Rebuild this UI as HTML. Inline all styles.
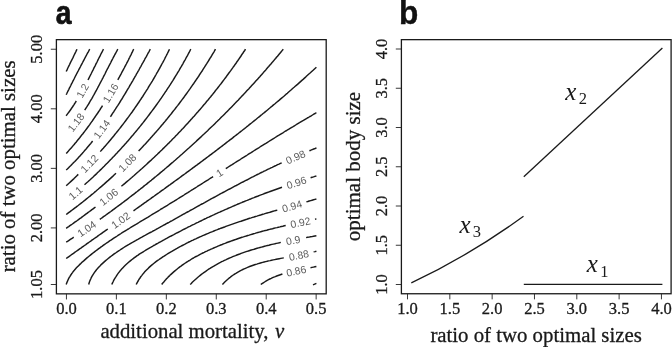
<!DOCTYPE html>
<html><head><meta charset="utf-8"><title>figure</title>
<style>html,body{margin:0;padding:0;background:#fff;}svg{display:block;will-change:transform;}text{font-family:"Liberation Serif",serif;fill:#1a1a1a;}.b{stroke:#1a1a1a;stroke-width:0.3px;}.s{font-family:"Liberation Sans",sans-serif;}</style></head><body>
<svg width="672" height="347" viewBox="0 0 672 347">
<rect x="0" y="0" width="672" height="347" fill="#ffffff"/>
<text class="s" transform="translate(55.8,23.5) scale(0.85,1)" font-size="33.2" font-weight="bold" style="fill:#111" stroke="#111" stroke-width="0.7">a</text>
<text class="s" transform="translate(399.1,23.5) scale(0.93,1)" font-size="34" font-weight="bold" style="fill:#111" stroke="#111" stroke-width="0.4">b</text>
<g fill="none" stroke="#1a1a1a" stroke-width="1.30">
<rect x="56.40" y="39.65" width="269.80" height="254.20"/>
<rect x="401.40" y="39.65" width="269.70" height="254.10"/>
</g>
<g fill="none" stroke="#222" stroke-width="0.9">
<line x1="66.45" y1="293.85" x2="66.45" y2="299.45"/>
<line x1="116.39" y1="293.85" x2="116.39" y2="299.45"/>
<line x1="166.33" y1="293.85" x2="166.33" y2="299.45"/>
<line x1="216.27" y1="293.85" x2="216.27" y2="299.45"/>
<line x1="266.21" y1="293.85" x2="266.21" y2="299.45"/>
<line x1="316.15" y1="293.85" x2="316.15" y2="299.45"/>
<line x1="56.40" y1="284.50" x2="50.80" y2="284.50"/>
<line x1="56.40" y1="227.92" x2="50.80" y2="227.92"/>
<line x1="56.40" y1="168.36" x2="50.80" y2="168.36"/>
<line x1="56.40" y1="108.80" x2="50.80" y2="108.80"/>
<line x1="56.40" y1="49.24" x2="50.80" y2="49.24"/>
<line x1="407.50" y1="293.75" x2="407.50" y2="299.35"/>
<line x1="401.40" y1="284.50" x2="395.80" y2="284.50"/>
<line x1="449.82" y1="293.75" x2="449.82" y2="299.35"/>
<line x1="401.40" y1="245.25" x2="395.80" y2="245.25"/>
<line x1="492.15" y1="293.75" x2="492.15" y2="299.35"/>
<line x1="401.40" y1="206.00" x2="395.80" y2="206.00"/>
<line x1="534.48" y1="293.75" x2="534.48" y2="299.35"/>
<line x1="401.40" y1="166.75" x2="395.80" y2="166.75"/>
<line x1="576.80" y1="293.75" x2="576.80" y2="299.35"/>
<line x1="401.40" y1="127.50" x2="395.80" y2="127.50"/>
<line x1="619.12" y1="293.75" x2="619.12" y2="299.35"/>
<line x1="401.40" y1="88.25" x2="395.80" y2="88.25"/>
<line x1="661.45" y1="293.75" x2="661.45" y2="299.35"/>
<line x1="401.40" y1="49.00" x2="395.80" y2="49.00"/>
</g>
<text class="b" x="66.45" y="314.2" font-size="16.5" text-anchor="middle">0.0</text>
<text class="b" x="116.39" y="314.2" font-size="16.5" text-anchor="middle">0.1</text>
<text class="b" x="166.33" y="314.2" font-size="16.5" text-anchor="middle">0.2</text>
<text class="b" x="216.27" y="314.2" font-size="16.5" text-anchor="middle">0.3</text>
<text class="b" x="266.21" y="314.2" font-size="16.5" text-anchor="middle">0.4</text>
<text class="b" x="316.15" y="314.2" font-size="16.5" text-anchor="middle">0.5</text>
<text class="b" transform="translate(42.3,284.50) rotate(-90)" font-size="16.5" text-anchor="middle">1.05</text>
<text class="b" transform="translate(42.3,227.92) rotate(-90)" font-size="16.5" text-anchor="middle">2.00</text>
<text class="b" transform="translate(42.3,168.36) rotate(-90)" font-size="16.5" text-anchor="middle">3.00</text>
<text class="b" transform="translate(42.3,108.80) rotate(-90)" font-size="16.5" text-anchor="middle">4.00</text>
<text class="b" transform="translate(42.3,49.24) rotate(-90)" font-size="16.5" text-anchor="middle">5.00</text>
<text class="b" x="407.50" y="314.2" font-size="16.5" text-anchor="middle">1.0</text>
<text class="b" transform="translate(387.3,284.50) rotate(-90)" font-size="16.5" text-anchor="middle">1.0</text>
<text class="b" x="449.82" y="314.2" font-size="16.5" text-anchor="middle">1.5</text>
<text class="b" transform="translate(387.3,245.25) rotate(-90)" font-size="16.5" text-anchor="middle">1.5</text>
<text class="b" x="492.15" y="314.2" font-size="16.5" text-anchor="middle">2.0</text>
<text class="b" transform="translate(387.3,206.00) rotate(-90)" font-size="16.5" text-anchor="middle">2.0</text>
<text class="b" x="534.48" y="314.2" font-size="16.5" text-anchor="middle">2.5</text>
<text class="b" transform="translate(387.3,166.75) rotate(-90)" font-size="16.5" text-anchor="middle">2.5</text>
<text class="b" x="576.80" y="314.2" font-size="16.5" text-anchor="middle">3.0</text>
<text class="b" transform="translate(387.3,127.50) rotate(-90)" font-size="16.5" text-anchor="middle">3.0</text>
<text class="b" x="619.12" y="314.2" font-size="16.5" text-anchor="middle">3.5</text>
<text class="b" transform="translate(387.3,88.25) rotate(-90)" font-size="16.5" text-anchor="middle">3.5</text>
<text class="b" x="661.45" y="314.2" font-size="16.5" text-anchor="middle">4.0</text>
<text class="b" transform="translate(387.3,49.00) rotate(-90)" font-size="16.5" text-anchor="middle">4.0</text>
<text class="b" x="100.4" y="337.6" font-size="20.75">additional mortality,</text>
<text class="b" x="275.0" y="337.6" font-size="20.75" font-style="italic">v</text>
<text class="b" transform="translate(15,166.4) rotate(-90)" font-size="20.85" text-anchor="middle">ratio of two optimal sizes</text>
<text class="b" x="536.1" y="342.0" font-size="20.8" text-anchor="middle">ratio of two optimal sizes</text>
<text class="b" transform="translate(359.5,166.5) rotate(-90)" font-size="21" text-anchor="middle">optimal body size</text>
<g fill="none" stroke="#1a1a1a" stroke-width="1.3" stroke-linecap="butt">
<path d="M523.8,176.7 L662.4,48.0"/>
<path d="M523.8,284.4 L662.4,284.4"/>
<path d="M411.3,282.8 Q467.4,256.8 523.5,216.3"/>
</g>
<text x="565.30" y="99.70" font-size="25" font-style="italic">x</text>
<text x="578.70" y="104.00" font-size="16.5">2</text>
<text x="459.40" y="232.90" font-size="25" font-style="italic">x</text>
<text x="472.80" y="237.20" font-size="16.5">3</text>
<text x="586.80" y="272.30" font-size="25" font-style="italic">x</text>
<text x="600.20" y="276.60" font-size="16.5">1</text>
<g fill="none" stroke="#1a1a1a" stroke-width="1.45" stroke-linecap="butt" stroke-linejoin="round">
<path d="M66.2,71.5 L66.9,70.1 L67.5,68.7 L68.2,67.3 L68.9,65.9 L69.6,64.5 L70.2,63.1 L70.9,61.7 L71.6,60.4 L72.3,59.0 L73.0,57.6 L73.6,56.2 L74.3,54.8 L75.0,53.4 L75.7,52.0 L76.3,50.6 L77.0,49.2"/>
<path d="M66.2,94.7 L66.9,93.3 L67.5,92.0 L68.2,90.6 L68.9,89.3 L69.5,87.9 L70.2,86.6 L70.9,85.2 L71.5,83.9 L72.2,82.6 L72.9,81.2 L73.6,79.9 L74.3,78.5 L74.9,77.2 L75.6,75.8 L76.3,74.5 L77.0,73.2 L77.7,71.8 L78.4,70.5 L79.1,69.1 L79.8,67.8 L80.5,66.5 L81.2,65.1 L81.9,63.8 L82.6,62.5 L83.3,61.1 L84.0,59.8 L84.7,58.5 L85.4,57.2 L86.1,55.8 L86.8,54.5 L87.5,53.2 L88.3,51.8 L89.0,50.5 L89.7,49.2"/>
<path d="M66.1,115.8 L67.0,114.6 L67.9,113.4 L68.8,112.2 L69.7,111.0 L70.6,109.8 L71.4,108.5 L72.3,107.3 L73.1,106.0 L73.9,104.8 L74.7,103.5 L75.5,102.3 L76.3,101.0"/>
<path d="M88.0,80.0 L88.7,78.7 L89.3,77.4 L90.0,76.0 L90.7,74.7 L91.4,73.3 L92.0,72.0 L92.7,70.6 L93.4,69.3 L94.0,67.9 L94.7,66.6 L95.4,65.3 L96.0,63.9 L96.7,62.6 L97.4,61.2 L98.0,59.9 L98.7,58.5 L99.4,57.2 L100.1,55.9 L100.7,54.5 L101.4,53.2 L102.1,51.9 L102.8,50.5 L103.5,49.2"/>
<path d="M84.7,110.2 L85.5,108.9 L86.3,107.6 L87.1,106.4 L87.9,105.1 L88.7,103.8 L89.5,102.5 L90.2,101.2 L91.0,99.9 L91.8,98.6 L92.5,97.3 L93.2,96.0 L94.0,94.6 L94.7,93.3 L95.4,92.0 L96.2,90.7 L96.9,89.3 L97.6,88.0 L98.3,86.7 L99.0,85.3 L99.7,84.0 L100.4,82.7 L101.1,81.3 L101.8,80.0 L102.5,78.6 L103.2,77.3 L103.9,75.9 L104.6,74.6 L105.3,73.2 L105.9,71.9 L106.6,70.5 L107.3,69.2 L108.0,67.9 L108.7,66.5 L109.4,65.2 L110.1,63.8 L110.8,62.5 L111.4,61.1 L112.1,59.8 L112.8,58.5 L113.5,57.1 L114.2,55.8 L114.9,54.5 L115.7,53.2 L116.4,51.8 L117.1,50.5 L117.8,49.2"/>
<path d="M66.2,153.5 L67.2,152.4 L68.2,151.3 L69.2,150.1 L70.2,149.0 L71.2,147.9 L72.2,146.8 L73.2,145.6 L74.2,144.5 L75.1,143.3 L76.1,142.2 L77.0,141.0 L78.0,139.8 L78.9,138.7 L79.9,137.5 L80.8,136.3 L81.7,135.1 L82.7,134.0 L83.6,132.8 L84.5,131.6 L85.4,130.4 L86.3,129.2 L87.2,128.0 L88.1,126.8 L89.0,125.6 L89.9,124.4 L90.7,123.1 L91.6,121.9 L92.5,120.7 L93.3,119.5 L94.2,118.2 L95.0,117.0 L95.9,115.7 L96.7,114.5 L97.6,113.3 L98.4,112.0 L99.2,110.8 L100.1,109.5 L100.9,108.2 L101.7,107.0 L102.5,105.7"/>
<path d="M117.8,79.9 L118.5,78.6 L119.3,77.2 L120.0,75.9 L120.7,74.6 L121.4,73.3 L122.1,71.9 L122.8,70.6 L123.5,69.3 L124.2,68.0 L124.9,66.6 L125.6,65.3 L126.3,64.0 L127.0,62.6 L127.7,61.3 L128.4,60.0 L129.0,58.6 L129.7,57.3 L130.4,55.9 L131.1,54.6 L131.7,53.2 L132.4,51.9 L133.0,50.5 L133.7,49.2"/>
<path d="M66.2,170.0 L67.3,169.0 L68.4,167.9 L69.5,166.8 L70.6,165.8 L71.6,164.7 L72.7,163.6 L73.7,162.5 L74.8,161.5 L75.8,160.4 L76.9,159.3 L77.9,158.2 L78.9,157.1 L80.0,155.9 L81.0,154.8 L82.0,153.7 L83.0,152.6 L84.0,151.4 L84.9,150.3 L85.9,149.2 L86.9,148.0 L87.9,146.8 L88.8,145.7 L89.8,144.5 L90.8,143.4 L91.7,142.2 L92.6,141.0"/>
<path d="M110.4,116.7 L111.3,115.5 L112.1,114.2 L112.9,112.9 L113.8,111.7 L114.6,110.4 L115.4,109.2 L116.2,107.9 L117.0,106.6 L117.9,105.4 L118.7,104.1 L119.5,102.8 L120.3,101.5 L121.1,100.2 L121.9,99.0 L122.7,97.7 L123.4,96.4 L124.2,95.1 L125.0,93.8 L125.8,92.5 L126.6,91.2 L127.3,89.9 L128.1,88.6 L128.9,87.3 L129.6,86.0 L130.4,84.7 L131.2,83.4 L131.9,82.1 L132.7,80.8 L133.4,79.5 L134.2,78.2 L134.9,76.9 L135.7,75.6 L136.4,74.2 L137.2,72.9 L137.9,71.6 L138.7,70.3 L139.4,69.0 L140.1,67.7 L140.9,66.3 L141.6,65.0 L142.3,63.7 L143.1,62.4 L143.8,61.1 L144.5,59.8 L145.2,58.4 L146.0,57.1 L146.7,55.8 L147.4,54.5 L148.1,53.2 L148.9,51.8 L149.6,50.5 L150.3,49.2"/>
<path d="M66.2,185.7 L67.3,184.7 L68.4,183.7 L69.5,182.7 L70.7,181.6 L71.8,180.6 L72.9,179.6 L74.0,178.6 L75.1,177.5 L76.1,176.5 L77.2,175.4 L78.3,174.4"/>
<path d="M100.3,151.6 L101.3,150.4 L102.3,149.3 L103.3,148.2 L104.3,147.0 L105.3,145.9 L106.3,144.8 L107.3,143.6 L108.3,142.5 L109.3,141.3 L110.2,140.2 L111.2,139.0 L112.2,137.8 L113.1,136.7 L114.1,135.5 L115.0,134.3 L116.0,133.1 L116.9,132.0 L117.9,130.8 L118.8,129.6 L119.8,128.4 L120.7,127.2 L121.6,126.0 L122.6,124.8 L123.5,123.6 L124.4,122.4 L125.3,121.2 L126.2,120.0 L127.1,118.8 L128.0,117.6 L128.9,116.4 L129.8,115.1 L130.7,113.9 L131.6,112.7 L132.5,111.5 L133.3,110.2 L134.2,109.0 L135.1,107.7 L135.9,106.5 L136.8,105.3 L137.6,104.0 L138.5,102.8 L139.3,101.5 L140.2,100.2 L141.0,99.0 L141.8,97.7 L142.7,96.5 L143.5,95.2 L144.3,93.9 L145.1,92.6 L145.9,91.4 L146.7,90.1 L147.6,88.8 L148.3,87.5 L149.1,86.2 L149.9,84.9 L150.7,83.7 L151.5,82.4 L152.3,81.1 L153.0,79.8 L153.8,78.5 L154.6,77.2 L155.3,75.9 L156.1,74.5 L156.8,73.2 L157.6,71.9 L158.3,70.6 L159.0,69.3 L159.8,68.0 L160.5,66.6 L161.2,65.3 L161.9,64.0 L162.7,62.6 L163.4,61.3 L164.1,60.0 L164.8,58.6 L165.4,57.3 L166.1,56.0 L166.8,54.6 L167.5,53.3 L168.2,51.9 L168.8,50.6 L169.5,49.2"/>
<path d="M84.5,184.8 L85.6,183.8 L86.7,182.8 L87.9,181.8 L89.0,180.8 L90.1,179.8 L91.2,178.7 L92.3,177.7 L93.4,176.7 L94.5,175.6 L95.6,174.6 L96.7,173.6 L97.7,172.5 L98.8,171.5 L99.9,170.4 L101.0,169.4 L102.1,168.3 L103.1,167.2 L104.2,166.2 L105.3,165.1 L106.3,164.1 L107.4,163.0 L108.4,161.9 L109.5,160.8 L110.5,159.7 L111.6,158.7 L112.6,157.6 L113.7,156.5 L114.7,155.4 L115.7,154.3 L116.8,153.2 L117.8,152.1 L118.8,151.0 L119.8,149.9 L120.9,148.8 L121.9,147.6 L122.9,146.5 L123.9,145.4 L124.9,144.3 L125.9,143.2 L126.9,142.0 L127.9,140.9 L128.9,139.8 L129.9,138.6 L130.8,137.5 L131.8,136.3 L132.8,135.2 L133.8,134.0 L134.7,132.9 L135.7,131.7 L136.7,130.6 L137.6,129.4 L138.6,128.2 L139.5,127.1 L140.5,125.9 L141.4,124.7 L142.4,123.5 L143.3,122.4 L144.2,121.2 L145.1,120.0 L146.1,118.8 L147.0,117.6 L147.9,116.4 L148.8,115.2 L149.7,114.0 L150.6,112.8 L151.5,111.6 L152.4,110.4 L153.3,109.2 L154.2,108.0 L155.1,106.8 L156.0,105.5 L156.9,104.3 L157.7,103.1 L158.6,101.9 L159.5,100.6 L160.3,99.4 L161.2,98.2 L162.1,96.9 L162.9,95.7 L163.8,94.4 L164.6,93.2 L165.4,91.9 L166.3,90.7 L167.1,89.4 L167.9,88.2 L168.8,86.9 L169.6,85.6 L170.4,84.4 L171.2,83.1 L172.0,81.8 L172.8,80.6 L173.6,79.3 L174.4,78.0 L175.2,76.7 L176.0,75.4 L176.8,74.2 L177.5,72.9 L178.3,71.6 L179.1,70.3 L179.8,69.0 L180.6,67.7 L181.4,66.4 L182.1,65.1 L182.9,63.8 L183.6,62.4 L184.3,61.1 L185.1,59.8 L185.8,58.5 L186.5,57.2 L187.3,55.9 L188.0,54.5 L188.7,53.2 L189.4,51.9 L190.1,50.5 L190.8,49.2"/>
<path d="M66.2,214.5 L67.4,213.6 L68.6,212.7 L69.8,211.8 L71.0,210.9 L72.2,210.0 L73.4,209.1 L74.6,208.2 L75.8,207.3 L77.0,206.4 L78.2,205.5 L79.4,204.5 L80.6,203.6 L81.8,202.7 L83.0,201.7 L84.1,200.8 L85.3,199.9 L86.5,198.9 L87.6,198.0 L88.8,197.0 L90.0,196.1 L91.1,195.1 L92.3,194.2 L93.5,193.2 L94.6,192.2 L95.8,191.3 L96.9,190.3 L98.1,189.3 L99.2,188.3 L100.3,187.4 L101.5,186.4 L102.6,185.4 L103.8,184.4 L104.9,183.4 L106.0,182.4 L107.1,181.4 L108.3,180.4 L109.4,179.4 L110.5,178.4 L111.6,177.4 L112.7,176.4 L113.8,175.3 L114.9,174.3 L116.0,173.3"/>
<path d="M138.6,151.1 L139.6,150.0 L140.6,148.9 L141.7,147.8 L142.7,146.7 L143.7,145.6 L144.8,144.5 L145.8,143.4 L146.8,142.3 L147.8,141.2 L148.8,140.1 L149.8,139.0 L150.8,137.8 L151.8,136.7 L152.8,135.6 L153.8,134.5 L154.8,133.3 L155.8,132.2 L156.8,131.1 L157.8,129.9 L158.8,128.8 L159.8,127.6 L160.7,126.5 L161.7,125.3 L162.7,124.2 L163.6,123.0 L164.6,121.9 L165.6,120.7 L166.5,119.5 L167.5,118.4 L168.4,117.2 L169.4,116.0 L170.3,114.9 L171.3,113.7 L172.2,112.5 L173.1,111.3 L174.1,110.1 L175.0,109.0 L175.9,107.8 L176.8,106.6 L177.8,105.4 L178.7,104.2 L179.6,103.0 L180.5,101.8 L181.4,100.6 L182.3,99.4 L183.2,98.2 L184.1,97.0 L185.0,95.7 L185.9,94.5 L186.8,93.3 L187.6,92.1 L188.5,90.9 L189.4,89.6 L190.3,88.4 L191.1,87.2 L192.0,85.9 L192.8,84.7 L193.7,83.5 L194.6,82.2 L195.4,81.0 L196.3,79.7 L197.1,78.5 L197.9,77.3 L198.8,76.0 L199.6,74.7 L200.4,73.5 L201.3,72.2 L202.1,71.0 L202.9,69.7 L203.7,68.4 L204.5,67.2 L205.3,65.9 L206.1,64.6 L206.9,63.4 L207.7,62.1 L208.5,60.8 L209.3,59.5 L210.1,58.2 L210.9,57.0 L211.7,55.7 L212.4,54.4 L213.2,53.1 L214.0,51.8 L214.7,50.5 L215.5,49.2"/>
<path d="M66.2,228.3 L67.4,227.4 L68.7,226.6 L69.9,225.7 L71.1,224.8 L72.4,224.0 L73.6,223.1 L74.8,222.2 L76.1,221.3 L77.3,220.5 L78.5,219.6 L79.7,218.7 L81.0,217.8 L82.2,216.9 L83.4,216.0 L84.6,215.1 L85.8,214.2 L87.0,213.3 L88.2,212.4 L89.5,211.5 L90.7,210.6 L91.9,209.7 L93.1,208.8 L94.3,207.9 L95.5,207.0"/>
<path d="M121.4,186.3 L122.6,185.3 L123.7,184.4 L124.9,183.4 L126.0,182.4 L127.2,181.4 L128.3,180.5 L129.5,179.5 L130.6,178.5 L131.8,177.5 L132.9,176.5 L134.1,175.5 L135.2,174.5 L136.3,173.5 L137.4,172.5 L138.6,171.5 L139.7,170.5 L140.8,169.5 L142.0,168.5 L143.1,167.5 L144.2,166.5 L145.3,165.5 L146.4,164.5 L147.5,163.4 L148.6,162.4 L149.7,161.4 L150.9,160.4 L152.0,159.3 L153.1,158.3 L154.2,157.3 L155.2,156.2 L156.3,155.2 L157.4,154.2 L158.5,153.1 L159.6,152.1 L160.7,151.0 L161.8,150.0 L162.8,148.9 L163.9,147.9 L165.0,146.8 L166.1,145.7 L167.1,144.7 L168.2,143.6 L169.3,142.6 L170.3,141.5 L171.4,140.4 L172.4,139.3 L173.5,138.3 L174.6,137.2 L175.6,136.1 L176.7,135.0 L177.7,133.9 L178.7,132.8 L179.8,131.7 L180.8,130.7 L181.8,129.6 L182.9,128.5 L183.9,127.4 L184.9,126.3 L186.0,125.1 L187.0,124.0 L188.0,122.9 L189.0,121.8 L190.0,120.7 L191.0,119.6 L192.0,118.5 L193.0,117.3 L194.1,116.2 L195.1,115.1 L196.0,113.9 L197.0,112.8 L198.0,111.7 L199.0,110.5 L200.0,109.4 L201.0,108.3 L202.0,107.1 L202.9,106.0 L203.9,104.8 L204.9,103.7 L205.9,102.5 L206.8,101.3 L207.8,100.2 L208.8,99.0 L209.7,97.9 L210.7,96.7 L211.6,95.5 L212.6,94.4 L213.5,93.2 L214.5,92.0 L215.4,90.8 L216.3,89.6 L217.3,88.5 L218.2,87.3 L219.1,86.1 L220.0,84.9 L221.0,83.7 L221.9,82.5 L222.8,81.3 L223.7,80.1 L224.6,78.9 L225.5,77.7 L226.4,76.5 L227.3,75.2 L228.2,74.0 L229.1,72.8 L230.0,71.6 L230.9,70.4 L231.8,69.1 L232.7,67.9 L233.5,66.7 L234.4,65.5 L235.3,64.2 L236.2,63.0 L237.0,61.7 L237.9,60.5 L238.7,59.3 L239.6,58.0 L240.5,56.8 L241.3,55.5 L242.1,54.2 L243.0,53.0 L243.8,51.7 L244.7,50.5 L245.5,49.2"/>
<path d="M66.2,242.2 L67.5,241.4 L68.7,240.6 L70.0,239.7 L71.2,238.9 L72.5,238.1 L73.7,237.2"/>
<path d="M99.8,219.4 L101.0,218.5 L102.3,217.6 L103.5,216.7 L104.7,215.9 L105.9,215.0 L107.1,214.1 L108.4,213.2 L109.6,212.3 L110.8,211.5 L112.0,210.6 L113.2,209.7 L114.4,208.8 L115.6,207.9 L116.8,207.0 L118.0,206.1 L119.3,205.2 L120.5,204.3 L121.7,203.4 L122.9,202.5 L124.1,201.6 L125.3,200.7 L126.5,199.8 L127.7,198.9 L128.8,198.0 L130.0,197.0 L131.2,196.1 L132.4,195.2 L133.6,194.3 L134.8,193.4 L136.0,192.4 L137.2,191.5 L138.3,190.6 L139.5,189.7 L140.7,188.7 L141.9,187.8 L143.1,186.9 L144.2,185.9 L145.4,185.0 L146.6,184.1 L147.7,183.1 L148.9,182.2 L150.1,181.2 L151.3,180.3 L152.4,179.3 L153.6,178.4 L154.7,177.4 L155.9,176.5 L157.1,175.5 L158.2,174.6 L159.4,173.6 L160.5,172.6 L161.7,171.7 L162.8,170.7 L164.0,169.8 L165.1,168.8 L166.3,167.8 L167.4,166.8 L168.6,165.9 L169.7,164.9 L170.8,163.9 L172.0,162.9 L173.1,162.0 L174.2,161.0 L175.4,160.0 L176.5,159.0 L177.6,158.0 L178.8,157.0 L179.9,156.0 L181.0,155.0 L182.2,154.0 L183.3,153.0 L184.4,152.0 L185.5,151.0 L186.6,150.0 L187.7,149.0 L188.9,148.0 L190.0,147.0 L191.1,146.0 L192.2,145.0 L193.3,144.0 L194.4,143.0 L195.5,142.0 L196.6,140.9 L197.7,139.9 L198.8,138.9 L199.9,137.9 L201.0,136.9 L202.1,135.8 L203.2,134.8 L204.3,133.8 L205.4,132.7 L206.5,131.7 L207.6,130.7 L208.7,129.6 L209.7,128.6 L210.8,127.5 L211.9,126.5 L213.0,125.5 L214.1,124.4 L215.1,123.4 L216.2,122.3 L217.3,121.3 L218.3,120.2 L219.4,119.2 L220.5,118.1 L221.5,117.0 L222.6,116.0 L223.7,114.9 L224.7,113.9 L225.8,112.8 L226.9,111.7 L227.9,110.7 L229.0,109.6 L230.0,108.5 L231.1,107.4 L232.1,106.4 L233.2,105.3 L234.2,104.2 L235.3,103.1 L236.3,102.0 L237.3,101.0 L238.4,99.9 L239.4,98.8 L240.4,97.7 L241.5,96.6 L242.5,95.5 L243.5,94.4 L244.6,93.3 L245.6,92.2 L246.6,91.1 L247.6,90.0 L248.7,88.9 L249.7,87.8 L250.7,86.7 L251.7,85.6 L252.7,84.5 L253.7,83.4 L254.8,82.2 L255.8,81.1 L256.8,80.0 L257.8,78.9 L258.8,77.8 L259.8,76.7 L260.8,75.5 L261.8,74.4 L262.8,73.3 L263.8,72.1 L264.8,71.0 L265.8,69.9 L266.7,68.7 L267.7,67.6 L268.7,66.5 L269.7,65.3 L270.7,64.2 L271.7,63.0 L272.6,61.9 L273.6,60.8 L274.6,59.6 L275.6,58.5 L276.5,57.3 L277.5,56.2 L278.5,55.0 L279.5,53.8 L280.4,52.7 L281.4,51.5 L282.3,50.4 L283.3,49.2"/>
<path d="M66.2,258.5 L67.4,257.6 L68.6,256.8 L69.9,255.9 L71.1,255.0 L72.3,254.1 L73.5,253.3 L74.7,252.4 L76.0,251.5 L77.2,250.7 L78.4,249.8 L79.6,248.9 L80.9,248.1 L82.1,247.2 L83.3,246.3 L84.5,245.5 L85.8,244.6 L87.0,243.7 L88.2,242.8 L89.4,242.0 L90.7,241.1 L91.9,240.2 L93.1,239.4 L94.3,238.5 L95.6,237.6 L96.8,236.8 L98.0,235.9 L99.2,235.0 L100.5,234.2 L101.7,233.3 L102.9,232.4 L104.1,231.6 L105.4,230.7 L106.6,229.8 L107.8,229.0"/>
<path d="M133.5,210.8 L134.8,209.9 L136.0,209.0 L137.2,208.2 L138.4,207.3 L139.7,206.4 L140.9,205.6 L142.1,204.7 L143.3,203.8 L144.5,202.9 L145.8,202.1 L147.0,201.2 L148.2,200.3 L149.4,199.5 L150.7,198.6 L151.9,197.7 L153.1,196.8 L154.3,196.0 L155.5,195.1 L156.8,194.2 L158.0,193.3 L159.2,192.5 L160.4,191.6 L161.6,190.7 L162.9,189.8 L164.1,189.0 L165.3,188.1 L166.5,187.2 L167.7,186.3 L168.9,185.4 L170.2,184.6 L171.4,183.7 L172.6,182.8 L173.8,181.9 L175.0,181.0 L176.2,180.2 L177.4,179.3 L178.7,178.4 L179.9,177.5 L181.1,176.6 L182.3,175.7 L183.5,174.8 L184.7,174.0 L185.9,173.1 L187.1,172.2 L188.3,171.3 L189.6,170.4 L190.8,169.5 L192.0,168.6 L193.2,167.7 L194.4,166.8 L195.6,165.9 L196.8,165.1 L198.0,164.2 L199.2,163.3 L200.4,162.4 L201.6,161.5 L202.8,160.6 L204.0,159.7 L205.2,158.8 L206.4,157.9 L207.6,157.0 L208.8,156.1 L210.0,155.2 L211.2,154.3 L212.4,153.4 L213.6,152.5 L214.8,151.6 L216.0,150.7 L217.2,149.7 L218.4,148.8 L219.6,147.9 L220.8,147.0 L222.0,146.1 L223.2,145.2 L224.3,144.3 L225.5,143.4 L226.7,142.4 L227.9,141.5 L229.1,140.6 L230.3,139.7 L231.5,138.8 L232.7,137.9 L233.8,136.9 L235.0,136.0 L236.2,135.1 L237.4,134.2 L238.6,133.2 L239.7,132.3 L240.9,131.4 L242.1,130.5 L243.3,129.5 L244.5,128.6 L245.6,127.7 L246.8,126.7 L248.0,125.8 L249.1,124.9 L250.3,123.9 L251.5,123.0 L252.7,122.0 L253.8,121.1 L255.0,120.2 L256.2,119.2 L257.3,118.3 L258.5,117.3 L259.7,116.4 L260.8,115.4 L262.0,114.5 L263.1,113.5 L264.3,112.6 L265.5,111.6 L266.6,110.7 L267.8,109.7 L268.9,108.8 L270.1,107.8 L271.2,106.8 L272.4,105.9 L273.5,104.9 L274.7,104.0 L275.8,103.0 L277.0,102.0 L278.1,101.1 L279.3,100.1 L280.4,99.1 L281.6,98.1 L282.7,97.2 L283.9,96.2 L285.0,95.2 L286.1,94.2 L287.3,93.3 L288.4,92.3 L289.5,91.3 L290.7,90.3 L291.8,89.3 L292.9,88.3 L294.1,87.3 L295.2,86.3 L296.3,85.4 L297.5,84.4 L298.6,83.4 L299.7,82.4 L300.8,81.4 L301.9,80.4 L303.1,79.4 L304.2,78.4 L305.3,77.4 L306.4,76.3 L307.5,75.3 L308.6,74.3 L309.8,73.3 L310.9,72.3 L312.0,71.3 L313.1,70.3 L314.2,69.2 L315.3,68.2 L316.4,67.2"/>
<path d="M66.2,284.5 L66.7,283.0 L67.3,281.6 L67.9,280.2 L68.5,278.9 L69.2,277.5 L70.0,276.3 L70.8,275.0 L71.6,273.8 L72.5,272.6 L73.3,271.4 L74.3,270.3 L75.2,269.2 L76.2,268.1 L77.2,267.0 L78.3,265.9 L79.3,264.9 L80.4,263.9 L81.5,262.8 L82.5,261.8 L83.7,260.9 L84.8,259.9 L85.9,258.9 L87.0,257.9 L88.1,257.0 L89.3,256.0 L90.4,255.1 L91.6,254.1 L92.8,253.2 L93.9,252.3 L95.1,251.4 L96.3,250.5 L97.5,249.6 L98.7,248.7 L99.9,247.8 L101.1,246.9 L102.3,246.1 L103.5,245.2 L104.7,244.3 L105.9,243.5 L107.2,242.6 L108.4,241.8 L109.6,240.9 L110.9,240.1 L112.1,239.3 L113.4,238.4 L114.6,237.6 L115.9,236.8 L117.2,236.0 L118.4,235.1 L119.7,234.3 L121.0,233.5 L122.2,232.7 L123.5,231.9 L124.8,231.1 L126.1,230.3 L127.4,229.5 L128.6,228.8 L129.9,228.0 L131.2,227.2 L132.5,226.4 L133.8,225.6 L135.1,224.8 L136.4,224.1 L137.7,223.3 L139.0,222.5 L140.3,221.7 L141.6,220.9 L142.9,220.2 L144.2,219.4 L145.5,218.6 L146.8,217.8 L148.1,217.1 L149.3,216.3 L150.6,215.5 L151.9,214.7 L153.2,213.9 L154.5,213.2 L155.8,212.4 L157.1,211.6 L158.4,210.8 L159.7,210.0 L160.9,209.2 L162.2,208.5 L163.5,207.7 L164.8,206.9 L166.1,206.1 L167.4,205.3 L168.6,204.5 L169.9,203.7 L171.2,202.9 L172.5,202.1 L173.8,201.4 L175.0,200.6 L176.3,199.8 L177.6,199.0 L178.9,198.2 L180.1,197.4 L181.4,196.6 L182.7,195.8 L184.0,195.0 L185.2,194.2 L186.5,193.4 L187.8,192.6 L189.0,191.8 L190.3,191.0 L191.6,190.2 L192.9,189.4 L194.1,188.6 L195.4,187.8 L196.7,187.0 L197.9,186.2 L199.2,185.4 L200.5,184.6 L201.7,183.8 L203.0,183.0 L204.3,182.2 L205.5,181.4 L206.8,180.6 L208.1,179.8 L209.3,179.0 L210.6,178.2 L211.9,177.4 L213.1,176.6"/>
<path d="M225.8,168.6 L227.0,167.8 L228.3,167.0 L229.6,166.2 L230.8,165.4 L232.1,164.6 L233.3,163.8 L234.6,163.0 L235.9,162.2 L237.1,161.4 L238.4,160.6 L239.7,159.8 L240.9,159.0 L242.2,158.2 L243.5,157.4 L244.7,156.6 L246.0,155.8 L247.3,155.0 L248.5,154.2 L249.8,153.4 L251.1,152.6 L252.3,151.8 L253.6,151.0 L254.9,150.2 L256.1,149.4 L257.4,148.6 L258.7,147.8 L259.9,147.0 L261.2,146.2 L262.5,145.4 L263.7,144.6 L265.0,143.8 L266.3,143.1 L267.5,142.3 L268.8,141.5 L270.1,140.7 L271.4,139.9 L272.6,139.1 L273.9,138.3 L275.2,137.5 L276.5,136.7 L277.7,135.9 L279.0,135.2 L280.3,134.4 L281.6,133.6 L282.9,132.8 L284.1,132.0 L285.4,131.2 L286.7,130.5 L288.0,129.7 L289.3,128.9 L290.5,128.1 L291.8,127.3 L293.1,126.6 L294.4,125.8 L295.7,125.0 L297.0,124.2 L298.3,123.4 L299.5,122.7 L300.8,121.9 L302.1,121.1 L303.4,120.4 L304.7,119.6 L306.0,118.8 L307.3,118.0 L308.6,117.3 L309.9,116.5 L311.2,115.8 L312.5,115.0 L313.8,114.2 L315.1,113.5 L316.4,112.7"/>
<path d="M88.7,284.5 L89.1,283.0 L89.6,281.6 L90.2,280.1 L90.8,278.8 L91.4,277.4 L92.1,276.1 L92.9,274.8 L93.7,273.6 L94.5,272.4 L95.4,271.2 L96.3,270.0 L97.2,268.9 L98.2,267.8 L99.2,266.7 L100.2,265.7 L101.2,264.6 L102.3,263.6 L103.4,262.6 L104.5,261.6 L105.6,260.6 L106.7,259.7 L107.9,258.7 L109.0,257.8 L110.2,256.9 L111.4,256.0 L112.6,255.1 L113.8,254.2 L115.0,253.3 L116.3,252.5 L117.5,251.6 L118.7,250.8 L120.0,250.0 L121.3,249.1 L122.5,248.3 L123.8,247.5 L125.1,246.7 L126.4,245.9 L127.7,245.1 L129.0,244.4 L130.3,243.6 L131.6,242.8 L132.9,242.1 L134.3,241.3 L135.6,240.6 L136.9,239.8 L138.3,239.1 L139.6,238.3 L140.9,237.6 L142.3,236.9 L143.6,236.1 L145.0,235.4 L146.3,234.7 L147.7,233.9 L149.0,233.2 L150.3,232.5 L151.7,231.8 L153.0,231.0 L154.4,230.3 L155.7,229.6 L157.0,228.8 L158.4,228.1 L159.7,227.4 L161.0,226.6 L162.4,225.9 L163.7,225.2 L165.0,224.5 L166.4,223.7 L167.7,223.0 L169.0,222.3 L170.3,221.5 L171.7,220.8 L173.0,220.1 L174.3,219.3 L175.6,218.6 L176.9,217.9 L178.3,217.1 L179.6,216.4 L180.9,215.7 L182.2,214.9 L183.5,214.2 L184.9,213.5 L186.2,212.7 L187.5,212.0 L188.8,211.3 L190.1,210.5 L191.4,209.8 L192.8,209.1 L194.1,208.4 L195.4,207.6 L196.7,206.9 L198.0,206.2 L199.3,205.5 L200.6,204.7 L201.9,204.0 L203.3,203.3 L204.6,202.6 L205.9,201.8 L207.2,201.1 L208.5,200.4 L209.8,199.7 L211.1,198.9 L212.5,198.2 L213.8,197.5 L215.1,196.8 L216.4,196.1 L217.7,195.4 L219.0,194.7 L220.3,193.9 L221.7,193.2 L223.0,192.5 L224.3,191.8 L225.6,191.1 L226.9,190.4 L228.2,189.7 L229.6,189.0 L230.9,188.3 L232.2,187.6 L233.5,186.9 L234.8,186.2 L236.2,185.5 L237.5,184.8 L238.8,184.1 L240.1,183.4 L241.4,182.7 L242.8,182.0 L244.1,181.3 L245.4,180.6 L246.8,180.0 L248.1,179.3 L249.4,178.6 L250.7,177.9 L252.1,177.2 L253.4,176.6 L254.7,175.9 L256.1,175.2 L257.4,174.5 L258.8,173.9 L260.1,173.2 L261.4,172.5 L262.8,171.9 L264.1,171.2 L265.5,170.6 L266.8,169.9 L268.2,169.2 L269.5,168.6 L270.9,167.9 L272.2,167.3 L273.6,166.6 L274.9,166.0 L276.3,165.4 L277.6,164.7 L279.0,164.1 L280.4,163.4 L281.7,162.8"/>
<path d="M309.4,150.7 L310.8,150.2 L312.2,149.6 L313.7,149.0 L315.1,148.5 L316.5,147.9"/>
<path d="M111.8,284.5 L112.4,283.1 L113.1,281.7 L113.7,280.4 L114.4,279.1 L115.2,277.8 L116.0,276.6 L116.8,275.3 L117.6,274.1 L118.5,272.9 L119.4,271.8 L120.3,270.6 L121.3,269.5 L122.2,268.4 L123.2,267.4 L124.3,266.3 L125.3,265.3 L126.4,264.3 L127.5,263.3 L128.6,262.3 L129.7,261.4 L130.9,260.4 L132.0,259.5 L133.2,258.6 L134.4,257.7 L135.6,256.8 L136.8,255.9 L138.1,255.1 L139.3,254.2 L140.6,253.4 L141.9,252.6 L143.2,251.8 L144.5,251.0 L145.8,250.2 L147.1,249.4 L148.4,248.6 L149.7,247.8 L151.0,247.1 L152.4,246.3 L153.7,245.5 L155.0,244.8 L156.4,244.0 L157.7,243.3 L159.0,242.5 L160.4,241.8 L161.7,241.1 L163.0,240.3 L164.4,239.6 L165.7,238.9 L167.1,238.2 L168.4,237.4 L169.7,236.7 L171.1,236.0 L172.4,235.3 L173.8,234.6 L175.1,233.9 L176.4,233.2 L177.8,232.5 L179.1,231.8 L180.5,231.1 L181.8,230.4 L183.1,229.7 L184.5,229.0 L185.8,228.3 L187.2,227.6 L188.5,226.9 L189.9,226.3 L191.2,225.6 L192.6,224.9 L193.9,224.3 L195.3,223.6 L196.6,222.9 L198.0,222.3 L199.3,221.6 L200.7,221.0 L202.0,220.3 L203.4,219.7 L204.7,219.0 L206.1,218.4 L207.4,217.7 L208.8,217.1 L210.1,216.5 L211.5,215.8 L212.9,215.2 L214.2,214.6 L215.6,213.9 L216.9,213.3 L218.3,212.7 L219.7,212.1 L221.0,211.5 L222.4,210.9 L223.7,210.3 L225.1,209.7 L226.5,209.1 L227.8,208.5 L229.2,207.9 L230.6,207.3 L232.0,206.7 L233.3,206.1 L234.7,205.5 L236.1,204.9 L237.4,204.3 L238.8,203.8 L240.2,203.2 L241.6,202.6 L242.9,202.0 L244.3,201.5 L245.7,200.9 L247.1,200.4 L248.5,199.8 L249.9,199.2 L251.2,198.7 L252.6,198.1 L254.0,197.6 L255.4,197.0 L256.8,196.5 L258.2,196.0 L259.6,195.4 L261.0,194.9 L262.4,194.4 L263.8,193.8 L265.2,193.3 L266.6,192.8 L268.0,192.3 L269.4,191.7 L270.8,191.2 L272.2,190.7 L273.6,190.2 L275.0,189.7 L276.4,189.2 L277.8,188.7 L279.2,188.2 L280.6,187.7 L282.0,187.2"/>
<path d="M310.6,177.8 L312.1,177.3 L313.5,176.9 L314.9,176.4 L316.4,176.0"/>
<path d="M136.2,284.5 L136.9,283.1 L137.6,281.8 L138.4,280.5 L139.1,279.2 L140.0,278.0 L140.8,276.7 L141.7,275.6 L142.6,274.4 L143.6,273.2 L144.5,272.1 L145.5,271.0 L146.5,270.0 L147.6,268.9 L148.6,267.9 L149.7,266.9 L150.8,265.9 L152.0,264.9 L153.1,264.0 L154.3,263.0 L155.4,262.1 L156.6,261.2 L157.8,260.3 L159.1,259.5 L160.3,258.6 L161.5,257.8 L162.8,256.9 L164.1,256.1 L165.3,255.3 L166.6,254.5 L167.9,253.7 L169.2,252.9 L170.5,252.1 L171.8,251.4 L173.1,250.6 L174.4,249.8 L175.7,249.1 L177.0,248.4 L178.3,247.6 L179.6,246.9 L181.0,246.2 L182.3,245.5 L183.6,244.8 L185.0,244.1 L186.3,243.4 L187.7,242.7 L189.0,242.0 L190.4,241.4 L191.7,240.7 L193.1,240.1 L194.4,239.4 L195.8,238.8 L197.2,238.1 L198.6,237.5 L199.9,236.9 L201.3,236.3 L202.7,235.7 L204.1,235.1 L205.5,234.5 L206.9,233.9 L208.3,233.3 L209.7,232.7 L211.1,232.1 L212.5,231.6 L213.9,231.0 L215.3,230.4 L216.7,229.9 L218.1,229.3 L219.5,228.8 L220.9,228.2 L222.4,227.7 L223.8,227.2 L225.2,226.7 L226.6,226.1 L228.1,225.6 L229.5,225.1 L230.9,224.6 L232.4,224.1 L233.8,223.6 L235.2,223.1 L236.7,222.6 L238.1,222.1 L239.5,221.6 L241.0,221.2 L242.4,220.7 L243.9,220.2 L245.3,219.7 L246.8,219.3 L248.2,218.8 L249.7,218.3 L251.1,217.9 L252.6,217.4 L254.0,217.0 L255.5,216.5 L256.9,216.1 L258.4,215.6 L259.8,215.2 L261.3,214.8 L262.8,214.3 L264.2,213.9 L265.7,213.4 L267.1,213.0 L268.6,212.6 L270.0,212.2 L271.5,211.7 L273.0,211.3 L274.4,210.9 L275.9,210.5 L277.3,210.1"/>
<path d="M306.4,201.9 L307.8,201.5 L309.2,201.0 L310.7,200.6 L312.1,200.2 L313.5,199.8 L315.0,199.4 L316.4,199.0"/>
<path d="M161.7,284.5 L162.6,283.3 L163.6,282.2 L164.6,281.0 L165.5,279.9 L166.5,278.8 L167.6,277.7 L168.6,276.6 L169.7,275.6 L170.7,274.6 L171.8,273.6 L172.9,272.6 L174.0,271.6 L175.2,270.6 L176.3,269.7 L177.5,268.7 L178.6,267.8 L179.8,266.9 L181.0,266.1 L182.2,265.2 L183.4,264.3 L184.6,263.5 L185.9,262.7 L187.1,261.8 L188.4,261.0 L189.7,260.3 L190.9,259.5 L192.2,258.7 L193.5,258.0 L194.8,257.2 L196.1,256.5 L197.5,255.8 L198.8,255.1 L200.1,254.4 L201.5,253.7 L202.8,253.0 L204.2,252.4 L205.5,251.7 L206.9,251.1 L208.2,250.4 L209.6,249.8 L211.0,249.2 L212.4,248.6 L213.7,248.0 L215.1,247.4 L216.5,246.8 L217.9,246.2 L219.3,245.6 L220.7,245.0 L222.1,244.5 L223.5,243.9 L224.9,243.4 L226.3,242.8 L227.7,242.3 L229.2,241.8 L230.6,241.3 L232.0,240.7 L233.4,240.2 L234.8,239.7 L236.3,239.3 L237.7,238.8 L239.1,238.3 L240.6,237.8 L242.0,237.3 L243.4,236.9 L244.9,236.4 L246.3,236.0 L247.8,235.5 L249.2,235.1 L250.7,234.6 L252.1,234.2 L253.6,233.8 L255.0,233.4 L256.5,232.9 L257.9,232.5 L259.4,232.1 L260.8,231.7 L262.3,231.3 L263.8,230.9 L265.2,230.5 L266.7,230.2 L268.1,229.8 L269.6,229.4 L271.1,229.0 L272.5,228.7 L274.0,228.3 L275.5,227.9 L276.9,227.6 L278.4,227.2 L279.9,226.9 L281.3,226.5 L282.8,226.2 L284.3,225.8 L285.7,225.5"/>
<path d="M315.0,219.2 L316.4,218.9"/>
<path d="M190.2,284.5 L191.3,283.4 L192.3,282.3 L193.4,281.3 L194.5,280.3 L195.7,279.2 L196.8,278.2 L197.9,277.3 L199.1,276.3 L200.2,275.4 L201.4,274.4 L202.6,273.5 L203.8,272.6 L205.0,271.8 L206.3,270.9 L207.5,270.0 L208.7,269.2 L210.0,268.4 L211.2,267.6 L212.5,266.8 L213.8,266.1 L215.1,265.3 L216.4,264.6 L217.7,263.8 L219.0,263.1 L220.4,262.4 L221.7,261.7 L223.0,261.1 L224.4,260.4 L225.7,259.8 L227.1,259.1 L228.5,258.5 L229.9,257.9 L231.3,257.3 L232.7,256.7 L234.1,256.1 L235.5,255.6 L236.9,255.0 L238.3,254.5 L239.7,254.0 L241.1,253.4 L242.6,252.9 L244.0,252.4 L245.4,251.9 L246.9,251.4 L248.3,251.0 L249.8,250.5 L251.2,250.0 L252.7,249.6 L254.2,249.2 L255.6,248.7 L257.1,248.3 L258.6,247.9 L260.0,247.5 L261.5,247.1 L263.0,246.7 L264.5,246.3 L266.0,245.9 L267.4,245.5 L268.9,245.2 L270.4,244.8 L271.9,244.4 L273.4,244.1 L274.9,243.8 L276.4,243.4 L277.9,243.1 L279.4,242.8 L280.8,242.4"/>
<path d="M306.1,237.6 L307.6,237.3 L309.1,237.1 L310.6,236.8 L312.0,236.6 L313.5,236.3 L314.9,236.0 L316.4,235.8"/>
<path d="M222.4,284.5 L223.4,283.4 L224.5,282.3 L225.6,281.2 L226.7,280.2 L227.8,279.2 L229.0,278.2 L230.2,277.3 L231.3,276.4 L232.5,275.5 L233.8,274.7 L235.0,273.8 L236.3,273.1 L237.5,272.3 L238.8,271.6 L240.1,270.9 L241.5,270.2 L242.8,269.5 L244.1,268.9 L245.5,268.3 L246.9,267.7 L248.2,267.1 L249.6,266.5 L251.1,266.0 L252.5,265.5 L253.9,265.0 L255.3,264.5 L256.8,264.1 L258.2,263.6 L259.7,263.2 L261.2,262.8 L262.7,262.4 L264.1,262.0 L265.6,261.6 L267.1,261.3 L268.6,260.9 L270.1,260.6 L271.6,260.2 L273.2,259.9 L274.7,259.6 L276.2,259.3 L277.7,259.0 L279.2,258.7 L280.8,258.4 L282.3,258.1 L283.8,257.9"/>
<path d="M313.6,251.9 L315.0,251.6 L316.4,251.2"/>
<path d="M260.8,284.5 L262.0,283.6 L263.3,282.8 L264.6,282.0 L265.9,281.2 L267.2,280.4 L268.5,279.7 L269.8,279.0 L271.2,278.4 L272.6,277.7 L273.9,277.1 L275.3,276.6 L276.7,276.0 L278.1,275.5 L279.6,275.0 L281.0,274.5 L282.4,274.0"/>
<path d="M310.5,267.7 L312.0,267.4 L313.5,267.1 L314.9,266.8 L316.4,266.5"/>
<path d="M313.0,284.8 L314.7,284.1 L316.4,283.4"/>
</g>
<g class="s" font-size="10.4" fill="#5c5c5c" text-anchor="middle">
<text class="s" style="fill:#5c5c5c" transform="translate(82.2,90.6) rotate(-60.9)" y="4.0">1.2</text>
<text class="s" style="fill:#5c5c5c" transform="translate(75.7,122.3) rotate(-52.2)" y="4.0">1.18</text>
<text class="s" style="fill:#5c5c5c" transform="translate(110.3,92.9) rotate(-59.3)" y="4.0">1.16</text>
<text class="s" style="fill:#5c5c5c" transform="translate(101.6,129.0) rotate(-53.8)" y="4.0">1.14</text>
<text class="s" style="fill:#5c5c5c" transform="translate(89.2,163.4) rotate(-46.1)" y="4.0">1.12</text>
<text class="s" style="fill:#5c5c5c" transform="translate(75.4,192.7) rotate(-40.6)" y="4.0">1.1</text>
<text class="s" style="fill:#5c5c5c" transform="translate(127.1,162.5) rotate(-44.6)" y="4.0">1.08</text>
<text class="s" style="fill:#5c5c5c" transform="translate(108.5,196.7) rotate(-38.6)" y="4.0">1.06</text>
<text class="s" style="fill:#5c5c5c" transform="translate(86.5,228.6) rotate(-34.5)" y="4.0">1.04</text>
<text class="s" style="fill:#5c5c5c" transform="translate(120.4,220.1) rotate(-35.3)" y="4.0">1.02</text>
<text class="s" style="fill:#5c5c5c" transform="translate(219.4,172.6) rotate(-32.4)" y="4.0">1</text>
<text class="s" style="fill:#5c5c5c" transform="translate(295.5,156.7) rotate(-23.6)" y="4.0">0.98</text>
<text class="s" style="fill:#5c5c5c" transform="translate(296.3,182.4) rotate(-18.2)" y="4.0">0.96</text>
<text class="s" style="fill:#5c5c5c" transform="translate(291.9,205.9) rotate(-15.8)" y="4.0">0.94</text>
<text class="s" style="fill:#5c5c5c" transform="translate(300.4,222.3) rotate(-12.2)" y="4.0">0.92</text>
<text class="s" style="fill:#5c5c5c" transform="translate(293.1,240.0) rotate(-10.9)" y="4.0">0.9</text>
<text class="s" style="fill:#5c5c5c" transform="translate(298.8,255.0) rotate(-11.2)" y="4.0">0.88</text>
<text class="s" style="fill:#5c5c5c" transform="translate(296.1,270.7) rotate(-12.8)" y="4.0">0.86</text>
</g>
</svg></body></html>
